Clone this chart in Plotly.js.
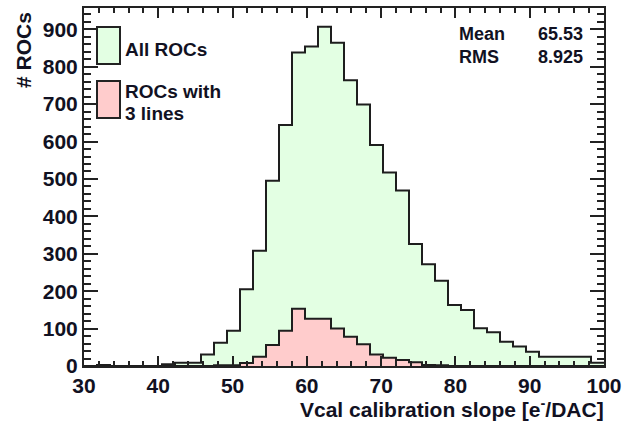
<!DOCTYPE html>
<html>
<head>
<meta charset="utf-8">
<script src="https://cdn.plot.ly/plotly-3.0.1.min.js"></script>
<style>html,body{margin:0;padding:0;background:#fff;}#chart{width:626px;height:425px;}</style>
</head>
<body>
<div id="chart"></div>
<script>
// Bin edges (41 edges, 40 bins of width 1.75 from 30 to 100)
var binEdges = [30, 31.75, 33.5, 35.25, 37, 38.75, 40.5, 42.25, 44, 45.75,
  47.5, 49.25, 51, 52.75, 54.5, 56.25, 58, 59.75, 61.5, 63.25,
  65, 66.75, 68.5, 70.25, 72, 73.75, 75.5, 77.25, 79, 80.75,
  82.5, 84.25, 86, 87.75, 89.5, 91.25, 93, 94.75, 96.5, 98.25, 100];

// All ROCs counts per bin
var allRocs = [0, 3, 0, 0, 0, 0, 5, 9, 9, 31,
  62, 94, 205, 308, 495, 644, 838, 854, 907, 864,
  764, 699, 591, 517, 469, 326, 272, 228, 163, 150,
  101, 90, 65, 52, 38, 25, 25, 25, 25, 9];

// ROCs with 3 lines counts per bin
var rocs3Lines = [0, 0, 0, 0, 0, 0, 0, 0, 0, 0,
  2, 2, 8, 25, 56, 94, 153, 126, 126, 100,
  78, 58, 31, 22, 16, 10, 3, 2, 0, 0,
  0, 0, 0, 0, 0, 0, 0, 0, 0, 0];

var legendLabels = ["All ROCs", "ROCs with", "3 lines"];
var statLabels = ["Mean", "RMS"];
var statValues = ["65.53", "8.925"];
var xTitle = "Vcal calibration slope [e<sup>-</sup>/DAC]";
var yTitle = "# ROCs";

function stepY(vals) { return vals.concat([vals[vals.length - 1]]); }

var greenFill = "#e3ffe3";
var redFill = "#ffcccc";
var lineCol = "#1e1e1e";
var FONT = "Liberation Sans, Arial, sans-serif";
var textCol = "#111122";

var traces = [
  {x: binEdges, y: stepY(allRocs), type: "scatter", mode: "lines",
   line: {shape: "hv", color: lineCol, width: 2}, fill: "tozeroy", fillcolor: greenFill,
   hoverinfo: "skip", showlegend: false},
  {x: binEdges, y: stepY(rocs3Lines), type: "scatter", mode: "lines",
   line: {shape: "hv", color: lineCol, width: 2}, fill: "tozeroy", fillcolor: redFill,
   hoverinfo: "skip", showlegend: false}
];

var tickFont = {family: FONT, size: 21, color: textCol, weight: "bold"};
function f(sz) { return {family: FONT, size: sz, color: textCol, weight: "bold"}; }
function py(p) { return (366 - p) / 358; } // pixel y -> paper y
function px(p) { return (p - 84) / 520; }  // pixel x -> paper x

var layout = {
  width: 626, height: 425,
  margin: {l: 84, r: 22, t: 8, b: 59},
  paper_bgcolor: "#fff", plot_bgcolor: "#fff",
  showlegend: false,
  xaxis: {
    range: [30, 100], showgrid: false, zeroline: false,
    showline: true, linecolor: "#222", linewidth: 2, mirror: "allticks",
    ticks: "inside", ticklen: 10, tickwidth: 2, tickcolor: "#222",
    dtick: 10, tick0: 30, tickfont: tickFont,
    minor: {dtick: 2, ticks: "inside", ticklen: 5, tickwidth: 2, tickcolor: "#222", showgrid: false}
  },
  yaxis: {
    range: [0, 957], showgrid: false, zeroline: false,
    showline: true, linecolor: "#222", linewidth: 2, mirror: "allticks",
    ticks: "inside", ticklen: 14, tickwidth: 2, tickcolor: "#222",
    dtick: 100, tick0: 0, tickfont: tickFont,
    minor: {dtick: 20, ticks: "inside", ticklen: 7, tickwidth: 2, tickcolor: "#222", showgrid: false}
  },
  shapes: [
    {type: "rect", xref: "paper", yref: "paper", x0: px(97), x1: px(120), y0: py(64), y1: py(27),
     fillcolor: greenFill, line: {color: "#222", width: 2}},
    {type: "rect", xref: "paper", yref: "paper", x0: px(97), x1: px(120), y0: py(118), y1: py(81),
     fillcolor: redFill, line: {color: "#222", width: 2}}
  ],
  annotations: [
    {xref: "paper", yref: "paper", x: px(123), y: py(49), xanchor: "left", yanchor: "middle",
     text: legendLabels[0], showarrow: false, font: f(19)},
    {xref: "paper", yref: "paper", x: px(123), y: py(92), xanchor: "left", yanchor: "middle",
     text: legendLabels[1], showarrow: false, font: f(19)},
    {xref: "paper", yref: "paper", x: px(123), y: py(114), xanchor: "left", yanchor: "middle",
     text: legendLabels[2], showarrow: false, font: f(19)},
    {xref: "paper", yref: "paper", x: px(457), y: py(34), xanchor: "left", yanchor: "middle",
     text: statLabels[0], showarrow: false, font: f(18)},
    {xref: "paper", yref: "paper", x: px(457), y: py(57), xanchor: "left", yanchor: "middle",
     text: statLabels[1], showarrow: false, font: f(18)},
    {xref: "paper", yref: "paper", x: px(585), y: py(34), xanchor: "right", yanchor: "middle",
     text: statValues[0], showarrow: false, font: f(18)},
    {xref: "paper", yref: "paper", x: px(585), y: py(57), xanchor: "right", yanchor: "middle",
     text: statValues[1], showarrow: false, font: f(18)},
    {xref: "paper", yref: "paper", x: px(606), y: py(408), xanchor: "right", yanchor: "middle",
     text: xTitle, showarrow: false, font: f(21)},
    {xref: "paper", yref: "paper", x: px(23), y: py(10), xanchor: "center", yanchor: "top", textangle: -90,
     text: yTitle, showarrow: false, font: f(21)}
  ]
};

Plotly.newPlot("chart", traces, layout, {displayModeBar: false, staticPlot: true});
</script>
</body>
</html>
